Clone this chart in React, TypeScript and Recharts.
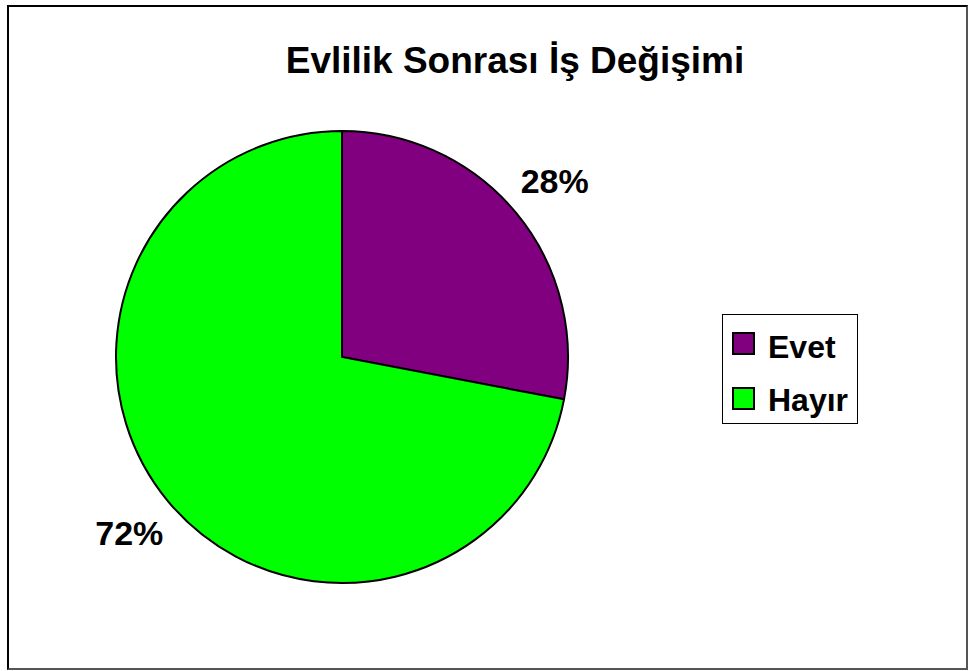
import { PieChart, Pie, Cell, Legend } from 'recharts'

const answers = ['Evet', 'Hayır']
const shares = [28, 72]
const sliceColors = ['#800080', '#00ff00']

const data = answers.map((name, i) => ({ name, value: shares[i] }))

const FONT = 'Arial, "Liberation Sans", sans-serif'
const RAD = Math.PI / 180

function renderLabel(props: any) {
  const { cx, cy, midAngle, outerRadius, value } = props
  const r = outerRadius + 50
  const x = cx + r * Math.cos(-midAngle * RAD)
  const y = cy + r * Math.sin(-midAngle * RAD)
  return (
    <text x={x} y={y + 12} textAnchor="middle" fill="#000" fontSize={34} fontWeight="bold" fontFamily={FONT}>
      {`${value}%`}
    </text>
  )
}

function LegendBox() {
  return (
    <div style={{ position: 'relative', border: '1px solid #000', background: '#fff', width: 136, height: 110, boxSizing: 'border-box' }}>
      {answers.map((name, i) => (
        <div key={name}>
          <span style={{ position: 'absolute', left: 9, top: 17 + i * 55, width: 19, height: 19, background: sliceColors[i], border: '2px solid #000' }} />
          <span style={{ position: 'absolute', left: 45, top: 16 + i * 53, lineHeight: '32px', fontSize: 32, fontWeight: 'bold', fontFamily: FONT, color: '#000', whiteSpace: 'nowrap' }}>{name}</span>
        </div>
      ))}
    </div>
  )
}

export default function App() {
  return (
    <div style={{ position: 'fixed', left: 0, top: 0, width: 970, height: 671, background: '#fff' }}>
      <div style={{ position: 'absolute', left: 7, top: 5, width: 961, height: 665, border: '2px solid #000', borderBottomColor: '#555', borderRightColor: '#555', boxSizing: 'border-box' }} />
      <div style={{ position: 'absolute', left: 415, top: 40, width: 200, textAlign: 'center', fontFamily: FONT, fontWeight: 'bold', fontSize: 37, color: '#000', whiteSpace: 'nowrap', display: 'flex', justifyContent: 'center' }}>
        Evlilik Sonrası İş Değişimi
      </div>
      <div style={{ position: 'absolute', left: 0, top: 0 }}>
        <PieChart width={970} height={671} margin={{ top: 0, right: 0, bottom: 0, left: 0 }}>
          <Pie
            data={data}
            dataKey="value"
            nameKey="name"
            cx={342}
            cy={357}
            outerRadius={226}
            startAngle={90}
            endAngle={-270}
            stroke="#000"
            strokeWidth={2}
            label={renderLabel}
            labelLine={false}
            isAnimationActive={false}
          >
            {data.map((d, i) => (
              <Cell key={d.name} fill={sliceColors[i]} />
            ))}
          </Pie>
          <Legend
            content={() => <LegendBox />}
            wrapperStyle={{ position: 'absolute', left: 722, top: 314, width: 136 }}
          />
        </PieChart>
      </div>
    </div>
  )
}
